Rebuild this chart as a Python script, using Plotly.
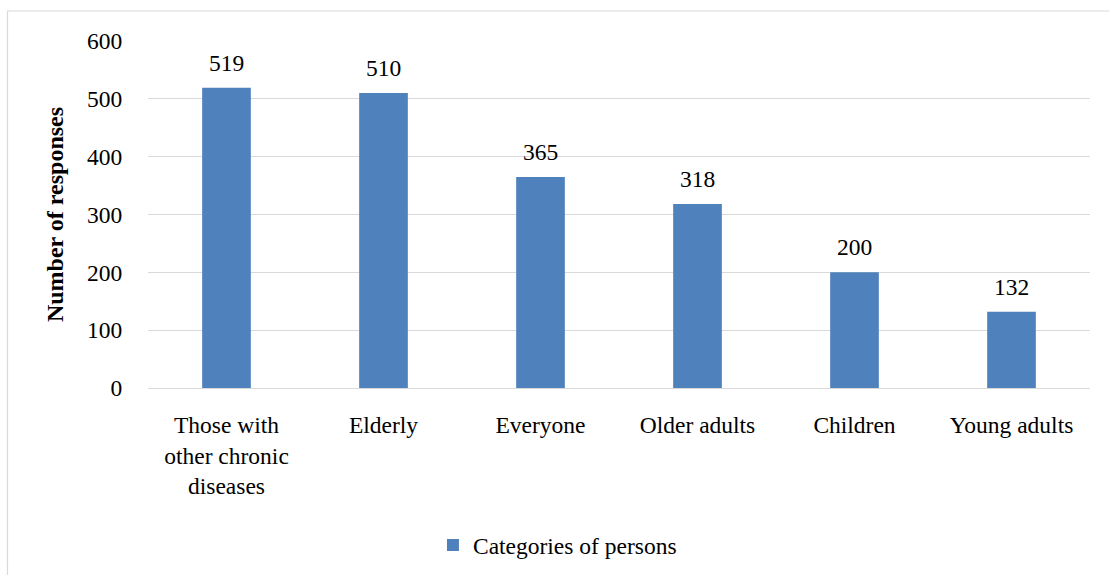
import plotly.graph_objects as go

categories = ["Those with<br>other chronic<br>diseases", "Elderly", "Everyone", "Older adults", "Children", "Young adults"]
values = [519, 510, 365, 318, 200, 132]
series_name = "Categories of persons"
y_ticks = [0, 100, 200, 300, 400, 500, 600]

FONT = "Times New Roman"
FS = 23.5
L, R, T, B = 148, 19, 41, 187
W, H = 1109, 575
pw, ph = W - L - R, H - T - B

fig = go.Figure()
fig.add_trace(go.Bar(
    x=categories, y=values, name=series_name,
    marker=dict(color="#4F81BD", line=dict(width=0)),
    showlegend=True,
))

for c, v in zip(categories, values):
    fig.add_annotation(x=c, y=v, text=str(v), showarrow=False,
                       yanchor="bottom", yshift=10,
                       font=dict(family=FONT, size=FS, color="#000"))

# outer chart border (light gray)
fig.add_shape(type="rect", xref="paper", yref="paper",
              x0=(7.5 - L) / pw, x1=(1112 - L) / pw,
              y0=(T + ph - 580) / ph, y1=1 + (T - 11) / ph,
              line=dict(color="#D9D9D9", width=1.2), fillcolor="rgba(0,0,0,0)",
              layer="below")

fig.update_layout(
    width=W, height=H,
    margin=dict(l=L, r=R, t=T, b=B, autoexpand=False),
    paper_bgcolor="white", plot_bgcolor="white",
    font=dict(family=FONT, size=FS, color="#000"),
    bargap=0.69,
    showlegend=True,
    legend=dict(orientation="h", x=0.3025, xanchor="left", y=-0.39, yanchor="top",
                font=dict(family=FONT, size=FS, color="#000"),
                itemwidth=30),
    xaxis=dict(showgrid=False, showline=False, ticks="outside", ticklen=16,
               tickcolor="rgba(0,0,0,0)", tickfont=dict(family=FONT, size=FS), automargin=False),
    yaxis=dict(range=[0, 600], tickvals=y_ticks, showgrid=True, gridcolor="#D9D9D9",
               gridwidth=1.2, zeroline=True, zerolinecolor="#D9D9D9", zerolinewidth=1.2,
               ticks="outside", ticklen=20, tickcolor="rgba(0,0,0,0)",
               tickfont=dict(family=FONT, size=FS), automargin=False,
               title=dict(text="<b>Number of responses</b>", standoff=16,
                          font=dict(family=FONT, size=24))),
)

fig.write_html("out.html")
